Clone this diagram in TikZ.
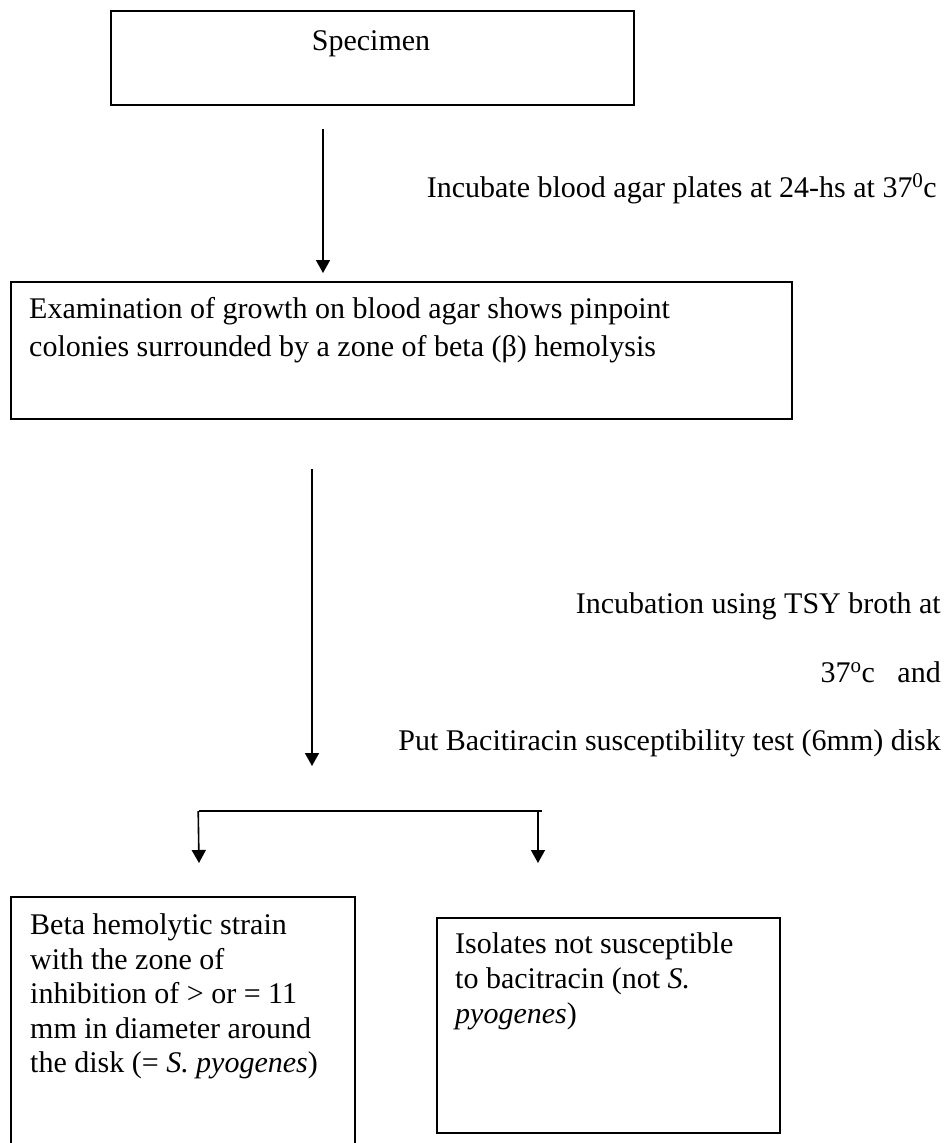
\documentclass[tikz,border=0pt]{standalone}
\usepackage{fontspec}
\setmainfont{Liberation Serif}
\usetikzlibrary{arrows.meta}
\begin{document}
\begin{tikzpicture}[x=1pt,y=-1pt,
  box/.style={draw=black,line width=1.8pt,inner sep=0pt,anchor=north west},
  txt/.style={inner sep=0pt,font=\fontsize{30}{35}\selectfont},
  arr/.style={line width=1.6pt,-{Triangle[width=14pt,length=13pt]}},
  ln/.style={line width=1.6pt}]
\useasboundingbox (0,0) rectangle (949,1143);
\clip (0,0) rectangle (949,1143);
% boxes
\node[box,minimum width=523pt,minimum height=94pt] (spec) at (110,10) {};
\node[box,minimum width=781pt,minimum height=137pt] (exam) at (10,281) {};
\node[box,minimum width=344pt,minimum height=270pt] (pos) at (10,896) {};
\node[box,minimum width=343pt,minimum height=215pt] (neg) at (436,917) {};
% texts
\node[txt,anchor=base] (t0) at (371,50) {Specimen};
\node[txt,anchor=base east] (t1) at (937,197) {Incubate blood agar plates at 24-hs at 37\textsuperscript{0}c};
\node[txt,anchor=base west] (t2a) at (29,318) {Examination of growth on blood agar shows pinpoint};
\node[txt,anchor=base west] (t2b) at (29,356) {colonies surrounded by a zone of beta (β) hemolysis};
\node[txt,anchor=base east] (t3a) at (941,613) {Incubation using TSY broth at};
\node[txt,anchor=base east] (t3b) at (941,682) {37\textsuperscript{o}c\hspace{0.75em}and};
\node[txt,anchor=base east] (t3c) at (941,750) {Put Bacitiracin susceptibility test (6mm) disk};
\node[txt,anchor=base west] (p1) at (30,934) {Beta hemolytic strain};
\node[txt,anchor=base west] (p2) at (30,969) {with the zone of};
\node[txt,anchor=base west] (p3) at (30,1003) {inhibition of > or = 11};
\node[txt,anchor=base west] (p4) at (30,1038) {mm in diameter around};
\node[txt,anchor=base west] (p5) at (30,1072) {the disk (= \textit{S. pyogenes})};
\node[txt,anchor=base west] (n1) at (455,953) {Isolates not susceptible};
\node[txt,anchor=base west] (n2) at (455,988) {to bacitracin (not \textit{S.}};
\node[txt,anchor=base west] (n3) at (455,1023) {\textit{pyogenes})};
% connectors
\coordinate (a1s) at (323,129);
\coordinate (a1e) at (323,273);
\draw[arr] (a1s) -- (a1e);
\coordinate (a2s) at (312,469);
\coordinate (a2e) at (312,766);
\draw[arr] (a2s) -- (a2e);
\coordinate (bl) at (199,811);
\coordinate (br) at (542,811);
\coordinate (blend) at (199,863);
\coordinate (brs) at (538,811);
\coordinate (brend) at (538,863);
\draw[ln] (bl) -- (br);
\draw[arr] ([xshift=-0.8pt]bl) -- (blend);
\draw[arr] (brs) -- (brend);
\end{tikzpicture}
\end{document}
